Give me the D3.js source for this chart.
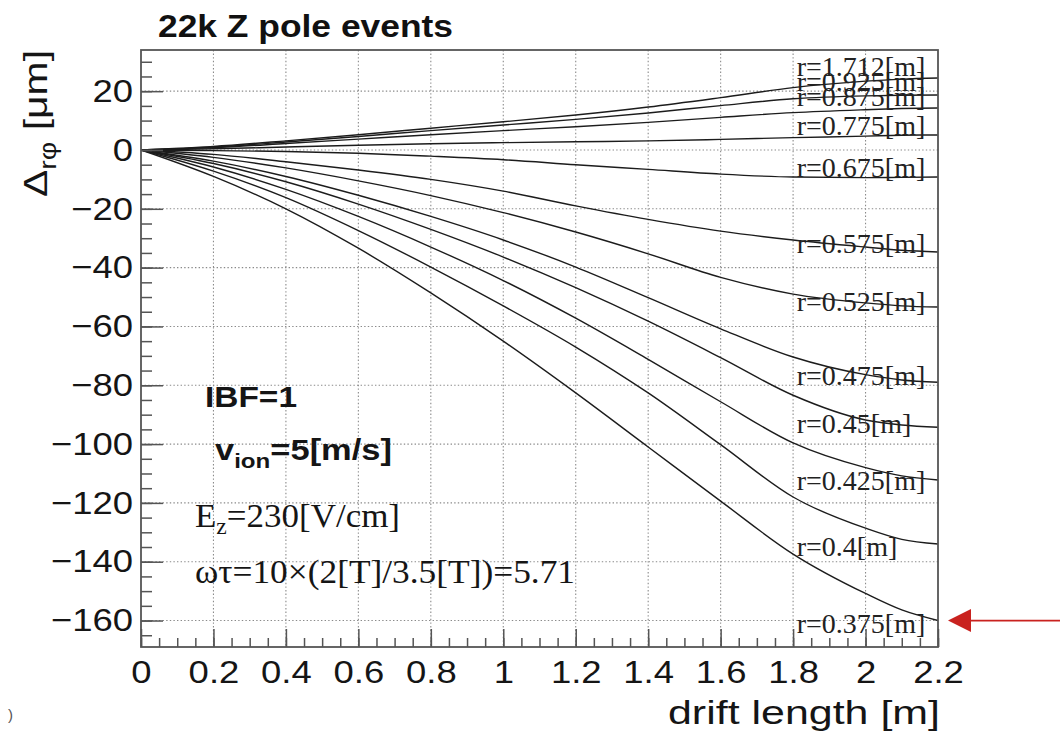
<!DOCTYPE html>
<html>
<head>
<meta charset="utf-8">
<script src="https://cdn.jsdelivr.net/npm/d3@7"></script>
<style>
  body { margin: 0; background: #fff; }
  svg { display: block; }
</style>
</head>
<body>
<svg id="chart" width="1060" height="740"></svg>
<script>
// Drift length sample points [m]
const driftLength = [0, 0.2, 0.4, 0.6, 0.8, 1.0, 1.2, 1.4, 1.6, 1.8, 2.0, 2.1, 2.2];

// Δrφ distortion [μm] for each readout radius
const dphi_r1712 = [0, 1.2, 3.1, 5.2, 7.4, 9.6, 11.9, 14.6, 17.8, 21.2, 23.4, 24.1, 24.5];
const dphi_r0925 = [0, 1.0, 2.7, 4.6, 6.6, 8.5, 10.4, 12.6, 15.1, 17.4, 18.4, 18.6, 18.7];
const dphi_r0875 = [0, 0.8, 2.2, 3.7, 5.2, 6.6, 7.9, 9.4, 11.1, 12.7, 13.7, 14.1, 14.3];
const dphi_r0775 = [0, 0.4, 1.0, 1.6, 2.1, 2.5, 2.8, 3.1, 3.6, 4.2, 4.7, 5.0, 5.1];
const dphi_r0675 = [0, -0.2, -0.5, -1.1, -2.1, -3.3, -5.0, -6.6, -8.2, -9.2, -9.4, -9.3, -9.2];
const dphi_r0575 = [0, -1.5, -4.0, -6.8, -10.0, -14.0, -19.0, -23.6, -27.6, -30.6, -33.0, -34.1, -34.7];
const dphi_r0525 = [0, -2.5, -6.1, -10.5, -15.5, -21.3, -27.9, -35.3, -43.3, -49.0, -52.0, -53.0, -53.4];
const dphi_r0475 = [0, -3.8, -9.0, -15.4, -22.6, -30.6, -39.8, -50.2, -60.8, -70.4, -76.4, -78.2, -79.0];
const dphi_r0450 = [0, -4.6, -10.8, -18.4, -27.0, -36.4, -46.8, -58.2, -70.6, -83.4, -91.8, -93.5, -94.3];
const dphi_r0425 = [0, -5.8, -13.4, -22.6, -33.0, -44.4, -57.2, -71.2, -85.6, -99.6, -108.0, -110.8, -112.2];
const dphi_r0400 = [0, -7.2, -16.2, -27.4, -39.8, -53.0, -67.0, -82.6, -100.2, -118.0, -128.6, -132.4, -134.0];
const dphi_r0375 = [0, -9.0, -20.0, -33.4, -48.6, -65.0, -82.6, -101.0, -119.4, -137.4, -150.8, -156.4, -160.0];

// Radius labels and the Δrφ value each label is anchored at
const radiusLabels = ["r=1.712[m]", "r=0.925[m]", "r=0.875[m]", "r=0.775[m]", "r=0.675[m]", "r=0.575[m]",
                      "r=0.525[m]", "r=0.475[m]", "r=0.45[m]", "r=0.425[m]", "r=0.4[m]", "r=0.375[m]"];
const labelAnchor = [25.2, 20.1, 15.0, 5.1, -9.2, -35.0, -54.7, -79.9, -96.2, -115.6, -138.0, -164.2];
const labelDrift = 1.81;

// Axis ticks
const xTicks = [0, 0.2, 0.4, 0.6, 0.8, 1.0, 1.2, 1.4, 1.6, 1.8, 2.0, 2.2];
const xTickLabels = ["0", "0.2", "0.4", "0.6", "0.8", "1", "1.2", "1.4", "1.6", "1.8", "2", "2.2"];
const yTicks = [20, 0, -20, -40, -60, -80, -100, -120, -140, -160];
const yTickLabels = ["20", "0", "\u221220", "\u221240", "\u221260", "\u221280", "\u2212100", "\u2212120", "\u2212140", "\u2212160"];

const series = [dphi_r1712, dphi_r0925, dphi_r0875, dphi_r0775, dphi_r0675, dphi_r0575,
                dphi_r0525, dphi_r0475, dphi_r0450, dphi_r0425, dphi_r0400, dphi_r0375];

// ---------------------------------------------------------------------------
const svg = d3.select("#chart");
const frame = { left: 141, right: 938, top: 50, bottom: 647 };
const sans = "'Liberation Sans', Arial, Helvetica, sans-serif";
const serif = "'Liberation Serif', 'Times New Roman', serif";

const x = d3.scaleLinear().domain([0, 2.2]).range([frame.left, frame.right]);
const y = d3.scaleLinear().domain([-169, 34]).range([frame.bottom, frame.top]);

svg.append("rect").attr("width", 1060).attr("height", 740).attr("fill", "#fff");

// dotted grid at major ticks
const grid = svg.append("g").attr("stroke", "#8a8a8a").attr("stroke-width", 1.1)
  .attr("stroke-dasharray", "1.4,2.2");
grid.selectAll("line.vx").data(xTicks.filter(d => d > 0 && d < 2.2)).join("line")
  .attr("x1", d => x(d)).attr("x2", d => x(d))
  .attr("y1", frame.top).attr("y2", frame.bottom);
grid.selectAll("line.hy").data(yTicks).join("line")
  .attr("x1", frame.left).attr("x2", frame.right)
  .attr("y1", d => y(d)).attr("y2", d => y(d));

// curves
svg.append("clipPath").attr("id", "plotArea").append("rect")
  .attr("x", frame.left).attr("y", frame.top)
  .attr("width", frame.right - frame.left).attr("height", frame.bottom - frame.top);

const line = d3.line()
  .x((d, i) => x(driftLength[i]))
  .y(d => y(d))
  .curve(d3.curveMonotoneX);

svg.append("g").attr("clip-path", "url(#plotArea)")
  .selectAll("path").data(series).join("path")
  .attr("d", line)
  .attr("fill", "none")
  .attr("stroke", "#1c1c1c")
  .attr("stroke-width", 1.4);

// radius labels
svg.append("g").selectAll("text").data(radiusLabels).join("text")
  .attr("x", x(labelDrift))
  .attr("y", (d, i) => y(labelAnchor[i]))
  .attr("font-family", serif)
  .attr("font-size", 28)
  .attr("fill", "#222")
  .text(d => d);

// axes (ticks drawn inward, ROOT style)
const minorX = d3.range(0, 2.2001, 0.05).map(v => +v.toFixed(2));
const minorY = d3.range(-165, 34, 5);
const axisColor = "#555";

function styleAxis(g) {
  g.select(".domain").remove();
  g.selectAll(".tick line").attr("stroke", axisColor).attr("stroke-width", 1.5);
}

svg.append("g").attr("transform", `translate(0,${frame.bottom})`)
  .call(d3.axisBottom(x).tickValues(minorX).tickSizeInner(-9).tickSizeOuter(0).tickFormat(""))
  .call(styleAxis);
svg.append("g").attr("transform", `translate(0,${frame.bottom})`)
  .call(d3.axisBottom(x).tickValues(xTicks).tickSizeInner(-18).tickSizeOuter(0)
    .tickPadding(13).tickFormat((d, i) => xTickLabels[i]))
  .call(styleAxis)
  .call(g => g.selectAll("text")
    .attr("font-family", sans).attr("font-size", 32).attr("fill", "#151515")
    .attr("transform", "scale(1.14,1)"));

svg.append("g").attr("transform", `translate(${frame.left},0)`)
  .call(d3.axisLeft(y).tickValues(minorY).tickSizeInner(-11).tickSizeOuter(0).tickFormat(""))
  .call(styleAxis);
svg.append("g").attr("transform", `translate(${frame.left},0)`)
  .call(d3.axisLeft(y).tickValues(yTicks).tickSizeInner(-22).tickSizeOuter(0)
    .tickPadding(7).tickFormat((d, i) => yTickLabels[i]))
  .call(styleAxis)
  .call(g => g.selectAll("text")
    .attr("font-family", sans).attr("font-size", 32).attr("fill", "#151515")
    .attr("transform", "scale(1.14,1)"));

// frame
svg.append("rect")
  .attr("x", frame.left).attr("y", frame.top)
  .attr("width", frame.right - frame.left).attr("height", frame.bottom - frame.top)
  .attr("fill", "none").attr("stroke", axisColor).attr("stroke-width", 1.8);

// title
svg.append("text")
  .attr("x", 158).attr("y", 37)
  .attr("font-family", sans).attr("font-weight", "bold").attr("font-size", 31)
  .attr("textLength", 295).attr("lengthAdjust", "spacingAndGlyphs")
  .attr("fill", "#111")
  .text("22k Z pole events");

// x axis title
svg.append("text")
  .attr("x", 940).attr("y", 724).attr("text-anchor", "end")
  .attr("font-family", sans).attr("font-size", 33)
  .attr("textLength", 272).attr("lengthAdjust", "spacingAndGlyphs")
  .attr("fill", "#151515")
  .text("drift length [m]");

// y axis title
const yTitle = svg.append("text")
  .attr("transform", "translate(47,50) rotate(-90)")
  .attr("text-anchor", "end")
  .attr("font-family", sans).attr("font-size", 33)
  .attr("textLength", 147).attr("lengthAdjust", "spacingAndGlyphs")
  .attr("fill", "#151515");
yTitle.append("tspan").text("\u0394");
yTitle.append("tspan").attr("dy", 9).attr("font-size", 23).text("r\u03c6");
yTitle.append("tspan").attr("dy", -9).text(" [\u03bcm]");

// run conditions
const notes = svg.append("g").attr("fill", "#151515");
notes.append("text")
  .attr("x", 205).attr("y", 407)
  .attr("font-family", sans).attr("font-weight", "bold").attr("font-size", 30)
  .attr("textLength", 92).attr("lengthAdjust", "spacingAndGlyphs")
  .text("IBF=1");
const vion = notes.append("text")
  .attr("x", 215).attr("y", 460)
  .attr("font-family", sans).attr("font-weight", "bold").attr("font-size", 30)
  .attr("textLength", 177).attr("lengthAdjust", "spacingAndGlyphs");
vion.append("tspan").text("v");
vion.append("tspan").attr("dy", 8).attr("font-size", 21).text("ion");
vion.append("tspan").attr("dy", -8).text("=5[m/s]");

const ez = notes.append("text")
  .attr("x", 195).attr("y", 527)
  .attr("font-family", serif).attr("font-size", 34)
  .attr("textLength", 205).attr("lengthAdjust", "spacingAndGlyphs");
ez.append("tspan").text("E");
ez.append("tspan").attr("dy", 7).attr("font-size", 23).text("z");
ez.append("tspan").attr("dy", -7).text("=230[V/cm]");

notes.append("text")
  .attr("x", 195).attr("y", 583)
  .attr("font-family", serif).attr("font-size", 34)
  .attr("textLength", 380).attr("lengthAdjust", "spacingAndGlyphs")
  .text("\u03c9\u03c4=10\u00d7(2[T]/3.5[T])=5.71");

// red pointer at the end of the innermost-radius curve
const tipY = y(dphi_r0375[dphi_r0375.length - 1]);
const tipX = x(2.2) + 10;
svg.append("line")
  .attr("x1", tipX + 20).attr("x2", 1060)
  .attr("y1", tipY).attr("y2", tipY)
  .attr("stroke", "#c9221f").attr("stroke-width", 1.8);
svg.append("path")
  .attr("d", `M${tipX},${tipY} L${tipX + 23},${tipY - 11.5} L${tipX + 23},${tipY + 11.5} Z`)
  .attr("fill", "#c9221f");

// stray glyph at the lower-left edge
svg.append("text")
  .attr("x", 8).attr("y", 720)
  .attr("font-family", sans).attr("font-size", 15).attr("fill", "#555")
  .text(")");
</script>
</body>
</html>
